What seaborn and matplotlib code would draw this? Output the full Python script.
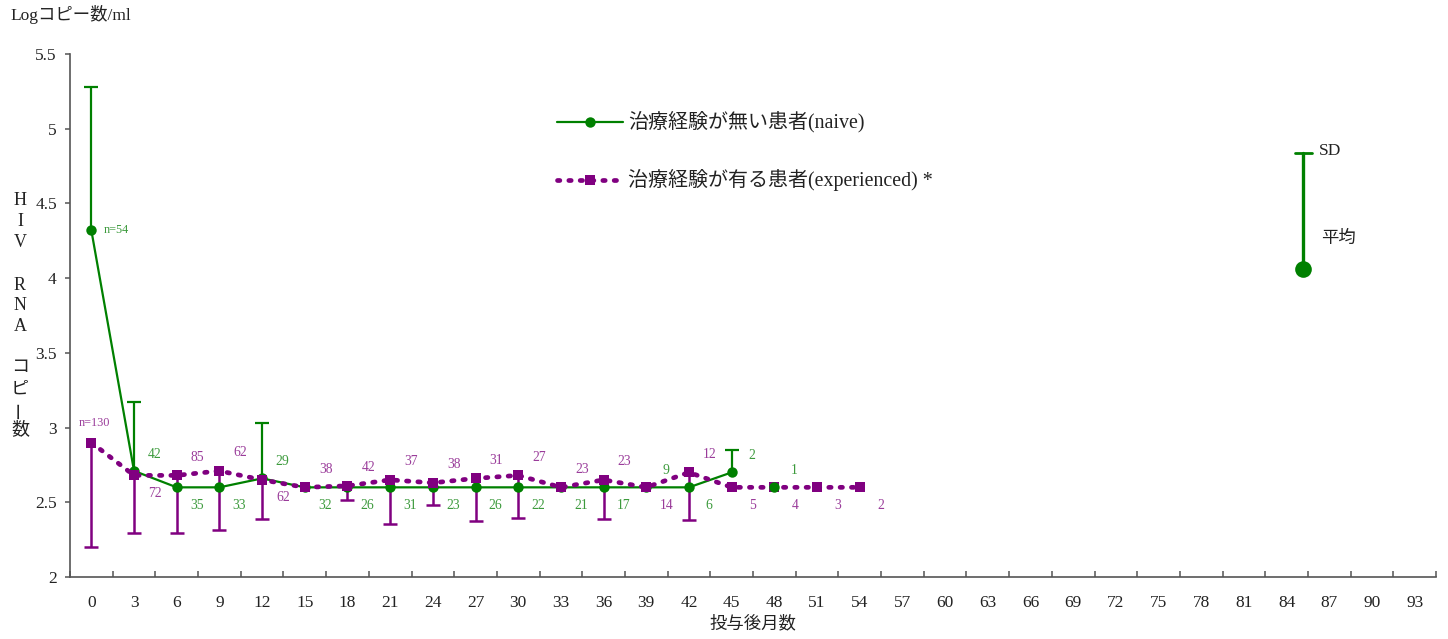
import numpy as np
import pandas as pd
import matplotlib
matplotlib.use("Agg")
import matplotlib.pyplot as plt
import seaborn as sns
from matplotlib.lines import Line2D

# ---- data -------------------------------------------------------------
month_labels = [0, 3, 6, 9, 12, 15, 18, 21, 24, 27, 30, 33, 36, 39, 42, 45,
                48, 51, 54, 57, 60, 63, 66, 69, 72, 75, 78, 81, 84, 87, 90, 93]
y_tick_values = [2, 2.5, 3, 3.5, 4, 4.5, 5, 5.5]
y_tick_labels = ["2", "2.5", "3", "3.5", "4", "4.5", "5", "5.5"]

naive_months = [0, 3, 6, 9, 12, 15, 18, 21, 24, 27, 30, 33, 36, 39, 42, 45, 48]
naive_mean = [4.32, 2.71, 2.60, 2.60, 2.66, 2.60, 2.60, 2.60, 2.60, 2.60,
              2.60, 2.60, 2.60, 2.60, 2.60, 2.70, 2.60]
naive_sd = [0.96, 0.46, np.nan, np.nan, 0.37, np.nan, np.nan, np.nan, np.nan,
            np.nan, np.nan, np.nan, np.nan, np.nan, np.nan, 0.15, np.nan]
naive_n = ["n=54", "42", "35", "33", "29", "32", "26", "31", "23", "26", "22",
           "21", "17", "9", "6", "2", "1"]

exp_months = [0, 3, 6, 9, 12, 15, 18, 21, 24, 27, 30, 33, 36, 39, 42, 45, 48, 51, 54]
exp_mean = [2.90, 2.68, 2.68, 2.71, 2.65, 2.60, 2.61, 2.65, 2.63, 2.66, 2.68,
            2.60, 2.65, 2.60, 2.70, 2.60, 2.60, 2.60, 2.60]
exp_sd = [0.70, 0.385, 0.385, 0.395, 0.26, np.nan, 0.095, 0.295, 0.15, 0.285,
          0.285, np.nan, 0.26, np.nan, 0.32, np.nan, np.nan, np.nan, np.nan]
exp_n = ["n=130", "72", "85", "62", "62", "38", "42", "37", "38", "31", "27",
         "23", "23", "14", "12", "5", "4", "3", "2"]

# where each count label sits relative to its point
naive_side = ["right", "up", "down", "down", "up", "down", "down", "down", "down",
              "down", "down", "down", "down", "up", "down", "up", "up"]
exp_side = ["top", "down", "up", "up", "down", "up", "up", "up", "up", "up", "up",
            "up", "up", "down", "up", "down", "down", "down", "down"]

GREEN = "#008000"
PURPLE = "#800080"
GREEN_TXT = "#3c9a3c"
PURPLE_TXT = "#9a3c9a"
TEXT = "#222222"

# ---- figure -----------------------------------------------------------
sns.set_theme(style="white")
plt.rcParams["font.family"] = ["Liberation Serif", "Noto Sans CJK JP", "DejaVu Sans"]

W, H = 1448, 639
fig = plt.figure(figsize=(W / 100, H / 100), dpi=100)
ax = fig.add_axes([70 / W, 1 - 577 / H, (1436 - 70) / W, (577 - 54) / H])

naive = pd.DataFrame({"pos": np.array(naive_months) / 3, "mean": naive_mean,
                      "sd": naive_sd, "n": naive_n})
exp = pd.DataFrame({"pos": np.array(exp_months) / 3, "mean": exp_mean,
                    "sd": exp_sd, "n": exp_n})


def one_sided_sd(frame, sign, color, lw):
    """SD whisker drawn on one side of the mean only, with a cap at its end."""
    d = frame.dropna(subset=["sd"])
    end = d["mean"] + sign * d["sd"]
    ax.vlines(d["pos"], d["mean"], end, color=color, linewidth=lw, zorder=2)
    ax.plot(d["pos"], end, linestyle="none", marker="_", markersize=9.4,
            markeredgewidth=lw, color=color, zorder=2)


one_sided_sd(naive, +1, GREEN, 1.6)
one_sided_sd(exp, -1, PURPLE, 1.8)

# naive: the single-patient point at the end stands alone, not joined
naive_line = naive.iloc[:-1]
naive_last = naive.iloc[-1:]
sns.lineplot(data=naive_line, x="pos", y="mean", ax=ax, color=GREEN, linewidth=1.6,
             marker="o", markersize=7.5, markeredgewidth=0, errorbar=None, zorder=3)
sns.lineplot(data=exp, x="pos", y="mean", ax=ax, color=PURPLE, linewidth=3.4,
             linestyle=(0, (0.5, 1.9)), dash_capstyle="round",
             marker="s", markersize=7.5, markeredgewidth=0, errorbar=None, zorder=4)
ax.plot(naive_last["pos"], naive_last["mean"], "o", color=GREEN,
        markersize=7.5, markeredgewidth=0, zorder=5)

# count labels
for p, m, t, s in zip(naive["pos"], naive["mean"], naive["n"], naive_side):
    if s == "right":
        ax.annotate(t, (p, m), xytext=(9, 0), textcoords="offset points",
                    ha="left", va="center", fontsize=8.8, color=GREEN_TXT)
    else:
        dy = 12 if s == "up" else -13
        ax.annotate(t, (p, m), xytext=(14.5, dy), textcoords="offset points",
                    ha="center", va="center", fontsize=9.8, color=GREEN_TXT)
for p, m, t, s in zip(exp["pos"], exp["mean"], exp["n"], exp_side):
    if s == "top":
        ax.annotate(t, (p, m), xytext=(2, 14), textcoords="offset points",
                    ha="center", va="center", fontsize=8.8, color=PURPLE_TXT)
    else:
        dy = 13 if s == "up" else -13
        ax.annotate(t, (p, m), xytext=(15, dy), textcoords="offset points",
                    ha="center", va="center", fontsize=9.8, color=PURPLE_TXT)

# ---- axes -------------------------------------------------------------
ax.set_xlim(-0.5, len(month_labels) - 0.5)
ax.set_ylim(2, 5.5)
ax.set_xlabel("")
ax.set_ylabel("")
for side in ("top", "right"):
    ax.spines[side].set_visible(False)
for side in ("left", "bottom"):
    ax.spines[side].set_color("#555555")
    ax.spines[side].set_linewidth(1.2)

ax.set_xticks(np.arange(len(month_labels) + 1) - 0.5)
ax.set_xticklabels([])
ax.set_xticks(np.arange(len(month_labels)), minor=True)
ax.set_xticklabels([str(v) for v in month_labels], minor=True)
ax.tick_params(axis="x", which="major", direction="in", length=4, width=1.1,
               color="#555555", bottom=True)
ax.tick_params(axis="x", which="minor", length=0, pad=13, labelsize=12.5,
               labelcolor=TEXT)
ax.set_yticks(y_tick_values)
ax.set_yticklabels(y_tick_labels)
ax.tick_params(axis="y", direction="out", length=3.5, width=1.1, color="#555555",
               pad=6, labelsize=12.5, labelcolor=TEXT, left=True)
ax.grid(False)


def px(x, y):
    return x / W, 1 - y / H


# axis titles
fig.text(*px(10, 15), "Logコピー数/ml", ha="left", va="center", fontsize=12.5,
         color=TEXT)
fig.text(*px(753, 624), "投与後月数", ha="center", va="center", fontsize=12.5,
         color=TEXT)
vertical = [("H", 200), ("I", 222), ("V", 243), ("R", 285), ("N", 306), ("A", 327),
            ("コ", 368), ("ピ", 389), ("ー", 410), ("数", 430)]
for ch, yy in vertical:
    rot = 90 if ch == "ー" else 0
    fig.text(*px(20, yy), ch, ha="center", va="center", fontsize=13,
             rotation=rot, color=TEXT)

# legend
leg_rows = [
    (122, dict(color=GREEN, linewidth=1.6, marker="o", markersize=7.5,
               markeredgewidth=0), "治療経験が無い患者(naive)"),
    (180, dict(color=PURPLE, linewidth=3.4, linestyle=(0, (0.5, 1.9)),
               dash_capstyle="round", marker="s", markersize=7.5,
               markeredgewidth=0), "治療経験が有る患者(experienced) *"),
]
for yy, style, label in leg_rows:
    xs = [557 / W, 590 / W, 623 / W]
    ys = [1 - yy / H] * 3
    fig.add_artist(Line2D(xs, ys, transform=fig.transFigure, markevery=[1], **style))
    fig.text(*px(628, yy), label, ha="left", va="center", fontsize=14.4, color=TEXT)

# key for the mean / SD glyph
fig.add_artist(Line2D([1303 / W, 1303 / W], [1 - 153 / H, 1 - 269 / H],
                      transform=fig.transFigure, color=GREEN, linewidth=2.4))
fig.add_artist(Line2D([1295 / W, 1312 / W], [1 - 153 / H, 1 - 153 / H],
                      transform=fig.transFigure, color=GREEN, linewidth=2.0))
fig.add_artist(Line2D([1303 / W], [1 - 269 / H], transform=fig.transFigure,
                      color=GREEN, marker="o", markersize=12, markeredgewidth=0))
fig.text(*px(1319, 151), "SD", ha="left", va="center", fontsize=12.5, color=TEXT)
fig.text(*px(1321, 239), "平均", ha="left", va="center", fontsize=12.5, color=TEXT)

fig.savefig("out.png", dpi=100)
